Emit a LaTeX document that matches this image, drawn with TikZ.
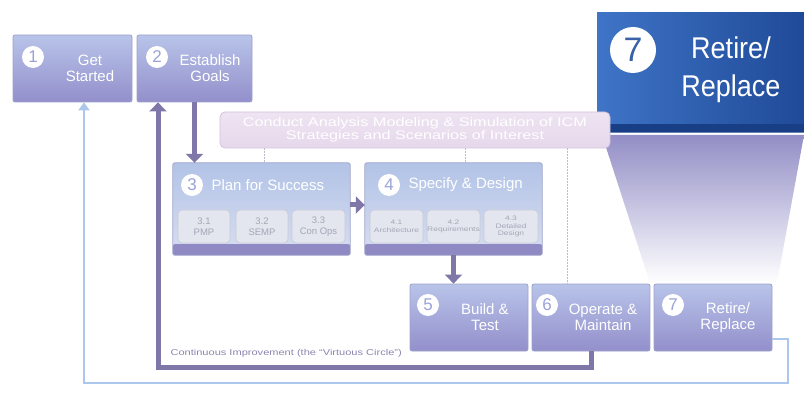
\documentclass[tikz,border=0pt]{standalone}
\usepackage{fontspec}
\setmainfont{Liberation Sans}
\newfontfamily\condfont[FakeStretch=0.9]{Liberation Sans}
\newfontfamily\widefont[FakeStretch=1.3]{Liberation Sans}
\usetikzlibrary{arrows.meta,calc}
\definecolor{boxtop}{HTML}{B8C4E9}
\definecolor{boxbot}{HTML}{938FCB}
\definecolor{boxedge}{HTML}{9EA2C9}
\definecolor{numcol}{HTML}{9AA3D8}
\definecolor{loopcol}{HTML}{7F77A8}
\definecolor{bluecol}{HTML}{ABC8EC}
\definecolor{pinkfill}{HTML}{E6D8EC}
\definecolor{pinkedge}{HTML}{D3C2DD}
\definecolor{subfill}{HTML}{E3E6EF}
\definecolor{subedge}{HTML}{C9CCD8}
\definecolor{subtext}{HTML}{A3A7B6}
\definecolor{bandcol}{HTML}{8F8AC3}
\definecolor{headtop}{HTML}{B2C3E7}
\definecolor{headbot}{HTML}{D8DEF0}
\definecolor{bigl}{HTML}{3F74C6}
\definecolor{bigr}{HTML}{1F4A98}
\definecolor{bigband}{HTML}{183E86}
\definecolor{bignum}{HTML}{3A60A8}
\definecolor{trapcol}{HTML}{928EC6}
\definecolor{dotcol}{HTML}{BFBBCB}
\definecolor{looptext}{HTML}{8A84B0}
\begin{document}
\begin{tikzpicture}[x=1pt,y=-1pt,
  stagebox/.style={draw=boxedge, line width=0.8pt, rounded corners=2pt,
    top color=boxtop, bottom color=boxbot, minimum width=#1, minimum height=67, inner sep=0},
  bigstage/.style={rounded corners=2pt, top color=headtop, bottom color=headbot,
    minimum width=177, minimum height=92, inner sep=0},
  numc/.style={circle, fill=white, text=numcol, minimum size=22, inner sep=0,
    font=\fontsize{17}{17}\selectfont},
  stagetxt/.style={text=white, align=center, font=\fontsize{15}{16}\selectfont},
  headtxt/.style={text=white, anchor=west, font=\fontsize{15}{16}\selectfont},
  subbox/.style={draw=subedge, line width=0.7pt, fill=subfill, rounded corners=4pt,
    minimum width=#1, minimum height=33, inner sep=0, text=subtext, align=center},
  fat/.style={draw=loopcol, line width=5pt, -{Triangle[width=17pt,length=9pt]}},
  thinblue/.style={draw=bluecol, line width=2pt, -{Triangle[width=11pt,length=8pt]}},
  dotline/.style={draw=dotcol, line width=1pt, dash pattern=on 1.5pt off 1.5pt}
]
\useasboundingbox (0,0) rectangle (804,393);

% trapezoid under the big box
\shade[top color=trapcol, bottom color=white] (602,135) -- (804,135) -- (777,283) -- (650,283) -- cycle;

% big box 7
\node[left color=bigl, right color=bigr, minimum width=207, minimum height=120, inner sep=0] (big) at (700.5,73) {};
\fill[bigband] ([yshift=0pt]big.south west) rectangle ([yshift=9pt]big.south east);
\fill[white, opacity=0.35] ([yshift=0pt]big.south west) rectangle ([yshift=1.5pt]big.south east);
\node[circle, fill=white, text=bignum, minimum size=46, inner sep=0,
  font=\fontsize{34}{34}\selectfont] (cbig) at (633,50) {7};
\node[text=white, align=center, font=\condfont\fontsize{30}{38}\selectfont] (bigtxt) at (731,70) {Retire/\\Replace};

% pink analysis box
\node[draw=pinkedge, line width=0.8pt, top color=pinkfill!70!white, bottom color=pinkfill,
  rounded corners=5pt, minimum width=390, minimum height=36, inner sep=0,
  text=white, align=center, font=\widefont\fontsize{12.5}{13}\selectfont] (pink) at (415,130)
  {Conduct Analysis Modeling \& Simulation of ICM\\Strategies and Scenarios of Interest};

% top boxes
\node[stagebox=119] (b1) at (72.5,68.5) {};
\node[numc] (c1) at (33,57) {1};
\node[stagetxt] (t1) at (90,68.5) {Get\\Started};
\node[stagebox=115] (b2) at (194.5,68.5) {};
\node[numc] (c2) at (157,57) {2};
\node[stagetxt] (t2) at (210,68.5) {Establish\\Goals};

% box 3
\node[bigstage] (b3) at (261.5,209) {};
\fill[bandcol, rounded corners=2pt] (b3.south west) rectangle ([yshift=11pt]b3.south east);
\draw[boxedge, line width=0.8pt, rounded corners=2pt] (b3.south west) rectangle (b3.north east);
\node[numc] (c3) at (192,185) {3};
\node[headtxt] (t3) at (208,185) {Plan for Success};
\node[subbox=52, font=\fontsize{9.5}{10.5}\selectfont] (s31) at (204,226.5) {3.1\\PMP};
\node[subbox=52, font=\fontsize{9.5}{10.5}\selectfont] (s32) at (262,226.5) {3.2\\SEMP};
\node[subbox=53, font=\fontsize{9.5}{10.5}\selectfont] (s33) at (318.5,226.5) {3.3\\Con Ops};

% box 4
\node[bigstage] (b4) at (453.5,209) {};
\fill[bandcol, rounded corners=2pt] (b4.south west) rectangle ([yshift=11pt]b4.south east);
\draw[boxedge, line width=0.8pt, rounded corners=2pt] (b4.south west) rectangle (b4.north east);
\node[numc] (c4) at (389,185) {4};
\node[headtxt] (t4) at (405,185) {Specify \& Design};
\node[subbox=53, font=\widefont\fontsize{6.5}{7.5}\selectfont] (s41) at (396.5,226.5) {4.1\\Architecture};
\node[subbox=53, font=\widefont\fontsize{6.5}{7.5}\selectfont] (s42) at (453.5,226.5) {4.2\\Requirements};
\node[subbox=54, font=\widefont\fontsize{6.5}{7.5}\selectfont] (s43) at (511,226.5) {4.3\\Detailed\\Design};

% bottom row
\node[stagebox=118] (b5) at (469,317.5) {};
\node[numc] (c5) at (428,305) {5};
\node[stagetxt] (t5) at (485,317.5) {Build \&\\Test};
\node[stagebox=118] (b6) at (591,317.5) {};
\node[numc] (c6) at (547,305) {6};
\node[stagetxt] (t6) at (603,317.5) {Operate \&\\Maintain};
\node[stagebox=118] (b7) at (713,317.5) {};
\node[numc] (c7) at (673,305) {7};
\node[stagetxt] (t7) at (728,317.5) {Retire/\\Replace};

% dotted links from analysis box
\draw[dotline] ([xshift=-151pt]pink.south) -- ([xshift=2.5pt]b3.north);
\draw[dotline] ([xshift=50pt]pink.south) -- ([xshift=11.5pt]b4.north);
\draw[dotline] ([xshift=152pt]pink.south) -- ([xshift=-24pt]b6.north);

% flow arrows
\draw[fat] (b2.south) -- (b3.north -| b2.south);
\draw[fat] ([yshift=4pt]b3.east) -- ([yshift=4pt]b4.west);
\draw[fat] (b4.south) -- (b5.north -| b4.south);

% continuous improvement loop
\draw[fat] (b6.south) -- ++(0,16.5) -| ([xshift=-36.5pt]b2.south);
\node[anchor=west, text=looptext, font=\widefont\fontsize{8.5}{9}\selectfont] (looplbl) at (167,353)
  {Continuous Improvement (the “Virtuous Circle”)};

% light blue return loop
\coordinate (corner) at (788,383);
\draw[thinblue] ([yshift=-21.5pt]b7.east) -| (corner) -| ([xshift=11.5pt]b1.south);
\end{tikzpicture}
\end{document}
